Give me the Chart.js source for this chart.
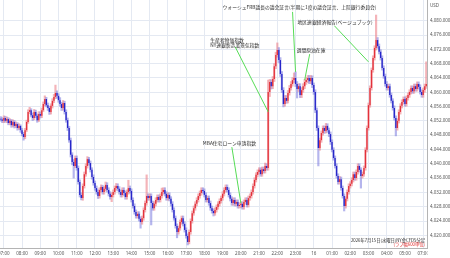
<!DOCTYPE html>
<html>
<head>
<meta charset="utf-8">
<script src="https://cdn.jsdelivr.net/npm/chart.js@4.4.1/dist/chart.umd.min.js"></script>
<style>
  html, body { margin: 0; padding: 0; background: #fff; }
</style>
</head>
<body>
<canvas id="goldChart" width="450" height="258"></canvas>
<script>
// Bar times (5 minute bars, JST)
const preTimes = ['05:50', '05:55'];
const sessionHours = ['07', '08', '09', '10', '11', '12', '13', '14', '15', '16', '17', '18',
                      '19', '20', '21', '22', '23', '00', '01', '02', '03', '04', '05'];
const minuteMarks = ['00', '05', '10', '15', '20', '25', '30', '35', '40', '45', '50', '55'];
const postTimes = ['07:00', '07:05', '07:10'];

// OHLC, one row per hour
const opens = [
  4052.6, 4052.4,
  4052.0, 4052.8, 4052.0, 4052.5, 4051.4, 4052.0, 4050.8, 4051.7, 4050.6, 4051.1, 4050.0, 4050.6,
  4049.4, 4048.3, 4047.5, 4049.4, 4051.7, 4054.5, 4055.0, 4053.6, 4052.8, 4054.5, 4053.4, 4052.2,
  4053.9, 4053.4, 4055.0, 4056.7, 4058.1, 4056.4, 4055.6, 4054.5, 4056.2, 4057.6, 4058.7, 4059.8,
  4059.0, 4057.8, 4056.7, 4055.6, 4057.0, 4054.5, 4052.2, 4050.0, 4046.6, 4042.5, 4040.5, 4039.4,
  4041.6, 4038.8, 4034.9, 4031.3, 4030.4, 4033.8, 4037.1, 4039.4, 4041.3, 4040.2, 4038.3, 4036.3,
  4034.6, 4033.2, 4032.1, 4031.0, 4032.7, 4033.5, 4032.1, 4033.0, 4034.1, 4032.7, 4031.6, 4030.7,
  4031.3, 4032.1, 4033.2, 4033.8, 4033.0, 4032.1, 4031.3, 4032.7, 4031.8, 4030.7, 4032.1, 4033.2,
  4032.4, 4029.9, 4028.2, 4026.5, 4025.4, 4026.0, 4024.6, 4023.7, 4024.8, 4027.1, 4029.0, 4031.0,
  4030.4, 4031.0, 4029.0, 4027.6, 4028.8, 4029.9, 4030.7, 4029.9, 4031.0, 4032.1, 4032.7, 4031.6,
  4030.4, 4031.3, 4030.2, 4028.8, 4027.1, 4024.8, 4022.6, 4020.9, 4022.0, 4023.7, 4024.8, 4023.2,
  4021.5, 4019.8, 4018.1, 4020.9, 4024.0, 4026.2, 4027.6, 4028.8, 4029.9, 4031.0, 4031.8, 4032.7,
  4032.4, 4031.3, 4029.9, 4030.4, 4029.0, 4027.6, 4026.8, 4026.2, 4027.1, 4027.9, 4028.8, 4029.6,
  4030.4, 4031.6, 4032.7, 4033.5, 4032.7, 4031.3, 4030.2, 4029.0, 4029.9, 4028.8, 4029.3, 4028.2,
  4028.5, 4028.8, 4027.9, 4029.3, 4029.9, 4028.5, 4030.4, 4031.0, 4032.1, 4033.8, 4035.5, 4036.9,
  4037.7, 4038.3, 4037.1, 4038.5, 4038.0, 4039.4, 4038.8, 4060.1, 4062.9, 4061.7, 4063.7, 4067.3,
  4070.4, 4071.8, 4069.0, 4065.1, 4060.6, 4056.7, 4058.4, 4057.6, 4059.8, 4061.2, 4062.3, 4063.4,
  4064.0, 4062.3, 4060.9, 4061.7, 4059.2, 4060.6, 4061.7, 4062.9, 4063.4, 4064.0, 4063.1, 4064.0,
  4062.0, 4060.1, 4055.0, 4050.0, 4044.4, 4046.6, 4048.6, 4050.0, 4049.2, 4050.6, 4049.4, 4048.3,
  4046.1, 4043.9, 4041.6, 4039.4, 4036.6, 4034.9, 4035.7, 4033.2, 4031.0, 4028.2, 4030.2, 4032.1,
  4033.8, 4034.4, 4035.5, 4037.1, 4036.0, 4037.7, 4039.4, 4038.3, 4036.6, 4037.1, 4038.8, 4043.9,
  4050.0, 4056.4, 4061.2, 4066.2, 4069.6, 4072.4, 4074.6, 4072.9, 4071.3, 4069.6, 4066.8, 4064.5,
  4062.3, 4061.2, 4061.7, 4059.2, 4057.6, 4055.6, 4052.8, 4050.0, 4052.0, 4054.5, 4056.2, 4057.3,
  4058.1, 4056.7, 4058.4, 4059.2, 4060.1, 4061.2, 4060.3, 4061.7, 4060.9, 4062.3, 4061.5, 4060.1,
  4059.2, 4060.6, 4061.7
];
const highs = [
  4053.2, 4052.9,
  4053.4, 4053.3, 4053.1, 4052.9, 4052.6, 4052.4, 4052.3, 4052.1, 4051.7, 4051.5, 4051.2, 4050.9,
  4049.9, 4048.8, 4049.9, 4052.2, 4055.1, 4055.8, 4055.4, 4054.2, 4055.2, 4055.0, 4053.9, 4054.6,
  4054.5, 4055.6, 4057.3, 4059.0, 4058.6, 4057.0, 4056.1, 4056.8, 4058.2, 4059.4, 4062.0, 4060.4,
  4059.6, 4058.5, 4057.2, 4057.7, 4057.5, 4055.1, 4052.8, 4050.5, 4047.2, 4043.1, 4041.2, 4042.2,
  4042.2, 4039.4, 4035.5, 4031.9, 4034.4, 4037.7, 4040.0, 4042.0, 4041.8, 4040.8, 4038.9, 4036.9,
  4035.2, 4033.8, 4032.7, 4033.3, 4034.1, 4034.0, 4033.6, 4034.9, 4034.7, 4033.3, 4032.2, 4031.9,
  4032.7, 4033.8, 4034.5, 4034.4, 4033.6, 4032.7, 4033.3, 4033.3, 4032.4, 4032.7, 4035.4, 4033.8,
  4033.0, 4030.5, 4028.8, 4027.1, 4026.6, 4026.6, 4025.2, 4025.4, 4027.7, 4029.6, 4036.9, 4031.6,
  4031.6, 4031.6, 4029.6, 4029.4, 4030.5, 4031.3, 4031.3, 4031.6, 4033.2, 4033.3, 4033.3, 4032.2,
  4031.9, 4031.9, 4030.8, 4029.4, 4027.7, 4025.4, 4023.2, 4022.6, 4024.3, 4025.4, 4025.4, 4023.8,
  4022.1, 4020.4, 4021.5, 4024.6, 4026.8, 4028.2, 4029.4, 4030.5, 4031.6, 4032.4, 4033.3, 4033.3,
  4033.0, 4031.9, 4031.0, 4031.0, 4029.6, 4028.2, 4027.4, 4027.7, 4028.5, 4029.4, 4030.2, 4031.0,
  4032.2, 4033.3, 4034.1, 4034.1, 4033.3, 4031.9, 4030.8, 4030.5, 4030.5, 4029.9, 4029.9, 4029.1,
  4029.4, 4029.4, 4029.9, 4030.5, 4030.5, 4031.0, 4031.6, 4032.7, 4034.4, 4036.1, 4037.5, 4038.3,
  4038.9, 4038.9, 4039.1, 4039.1, 4040.2, 4040.0, 4063.4, 4063.6, 4063.5, 4064.4, 4068.0, 4071.2,
  4073.8, 4072.5, 4069.7, 4065.8, 4061.3, 4059.1, 4059.1, 4060.5, 4061.9, 4063.0, 4064.1, 4065.4,
  4065.7, 4063.0, 4062.4, 4062.4, 4061.3, 4062.4, 4063.6, 4064.1, 4064.7, 4064.7, 4064.7, 4064.6,
  4062.6, 4060.7, 4055.6, 4050.6, 4047.2, 4049.2, 4050.6, 4050.6, 4051.3, 4051.2, 4050.0, 4048.9,
  4046.7, 4044.5, 4042.2, 4040.0, 4037.2, 4036.5, 4036.3, 4033.8, 4031.6, 4030.8, 4032.7, 4034.4,
  4035.0, 4036.1, 4037.7, 4037.7, 4038.3, 4040.0, 4040.0, 4038.9, 4037.7, 4039.4, 4044.5, 4050.6,
  4057.0, 4061.8, 4066.8, 4070.2, 4073.0, 4081.6, 4075.3, 4073.5, 4071.9, 4070.2, 4067.4, 4065.1,
  4063.0, 4062.3, 4062.3, 4059.8, 4058.2, 4056.2, 4053.4, 4052.6, 4055.1, 4056.8, 4057.9, 4058.7,
  4058.7, 4059.0, 4059.8, 4060.7, 4061.8, 4061.8, 4062.3, 4062.3, 4062.9, 4062.9, 4062.1, 4060.7,
  4061.2, 4062.3, 4068.5
];
const lows = [
  4051.9, 4051.5,
  4051.5, 4051.6, 4051.5, 4050.9, 4050.9, 4050.2, 4050.3, 4050.0, 4050.1, 4049.4, 4049.6, 4048.8,
  4047.8, 4046.6, 4047.0, 4049.0, 4051.3, 4054.0, 4053.1, 4052.1, 4052.3, 4052.9, 4051.6, 4051.8,
  4052.8, 4052.9, 4054.6, 4056.2, 4055.9, 4054.9, 4053.8, 4053.9, 4055.6, 4057.1, 4058.2, 4058.3,
  4057.2, 4056.1, 4054.9, 4055.0, 4053.9, 4051.6, 4049.3, 4046.0, 4041.9, 4039.7, 4036.0, 4038.9,
  4038.2, 4034.3, 4030.7, 4029.9, 4029.8, 4033.2, 4036.5, 4038.8, 4039.6, 4037.7, 4035.7, 4034.0,
  4032.6, 4031.5, 4030.3, 4030.4, 4032.1, 4031.5, 4031.5, 4032.4, 4032.1, 4031.0, 4030.1, 4029.4,
  4030.7, 4031.5, 4032.6, 4032.4, 4031.5, 4030.7, 4030.7, 4031.2, 4030.1, 4030.1, 4031.5, 4031.8,
  4029.3, 4027.6, 4025.9, 4024.8, 4024.8, 4024.0, 4022.0, 4023.1, 4024.2, 4026.5, 4028.4, 4029.8,
  4029.8, 4022.9, 4027.0, 4027.0, 4028.2, 4029.3, 4029.3, 4029.3, 4030.4, 4031.5, 4031.0, 4029.8,
  4029.8, 4029.6, 4028.2, 4026.5, 4024.2, 4022.0, 4019.3, 4020.3, 4021.4, 4023.1, 4022.6, 4020.9,
  4019.2, 4017.3, 4017.6, 4020.3, 4023.4, 4025.6, 4027.0, 4028.2, 4029.3, 4030.4, 4031.2, 4031.8,
  4030.7, 4029.3, 4029.3, 4028.4, 4027.0, 4026.2, 4025.4, 4025.6, 4026.5, 4027.3, 4028.2, 4029.0,
  4029.8, 4031.0, 4032.1, 4032.1, 4030.7, 4029.6, 4028.4, 4028.4, 4028.2, 4028.2, 4027.6, 4027.6,
  4027.7, 4027.3, 4027.3, 4028.7, 4027.9, 4027.9, 4029.8, 4030.4, 4031.5, 4033.2, 4034.9, 4036.3,
  4037.1, 4036.5, 4036.5, 4037.4, 4037.4, 4038.2, 4038.2, 4058.8, 4060.9, 4061.0, 4063.0, 4066.6,
  4069.8, 4068.3, 4064.4, 4059.9, 4055.9, 4056.1, 4056.9, 4057.0, 4059.2, 4060.6, 4061.7, 4062.7,
  4061.6, 4058.4, 4060.2, 4058.5, 4058.5, 4060.0, 4061.0, 4062.2, 4062.7, 4062.4, 4062.4, 4061.3,
  4059.4, 4054.3, 4049.3, 4039.4, 4043.8, 4046.0, 4048.0, 4048.5, 4048.6, 4048.8, 4047.6, 4045.4,
  4043.3, 4041.0, 4038.8, 4036.0, 4034.3, 4034.3, 4032.6, 4030.4, 4026.8, 4027.6, 4029.6, 4031.5,
  4033.2, 4033.8, 4034.9, 4035.4, 4035.4, 4037.1, 4037.7, 4033.2, 4036.0, 4036.5, 4038.2, 4043.3,
  4049.4, 4055.8, 4060.6, 4065.6, 4069.0, 4071.8, 4072.3, 4070.7, 4069.0, 4066.2, 4063.9, 4061.7,
  4060.6, 4060.6, 4058.6, 4057.0, 4055.0, 4052.2, 4047.8, 4049.4, 4051.4, 4053.9, 4055.6, 4056.7,
  4056.1, 4056.1, 4057.8, 4058.6, 4059.5, 4059.7, 4059.7, 4060.3, 4060.3, 4060.9, 4059.5, 4058.6,
  4058.6, 4060.0, 4061.1
];
const closes = [
  4052.4, 4052.0,
  4052.8, 4052.0, 4052.5, 4051.4, 4052.0, 4050.8, 4051.7, 4050.6, 4051.1, 4050.0, 4050.6, 4049.4,
  4048.3, 4047.5, 4049.4, 4051.7, 4054.5, 4055.0, 4053.6, 4052.8, 4054.5, 4053.4, 4052.2, 4053.9,
  4053.4, 4055.0, 4056.7, 4058.1, 4056.4, 4055.6, 4054.5, 4056.2, 4057.6, 4058.7, 4059.8, 4059.0,
  4057.8, 4056.7, 4055.6, 4057.0, 4054.5, 4052.2, 4050.0, 4046.6, 4042.5, 4040.5, 4039.4, 4041.6,
  4038.8, 4034.9, 4031.3, 4030.4, 4033.8, 4037.1, 4039.4, 4041.3, 4040.2, 4038.3, 4036.3, 4034.6,
  4033.2, 4032.1, 4031.0, 4032.7, 4033.5, 4032.1, 4033.0, 4034.1, 4032.7, 4031.6, 4030.7, 4031.3,
  4032.1, 4033.2, 4033.8, 4033.0, 4032.1, 4031.3, 4032.7, 4031.8, 4030.7, 4032.1, 4033.2, 4032.4,
  4029.9, 4028.2, 4026.5, 4025.4, 4026.0, 4024.6, 4023.7, 4024.8, 4027.1, 4029.0, 4031.0, 4030.4,
  4031.0, 4029.0, 4027.6, 4028.8, 4029.9, 4030.7, 4029.9, 4031.0, 4032.1, 4032.7, 4031.6, 4030.4,
  4031.3, 4030.2, 4028.8, 4027.1, 4024.8, 4022.6, 4020.9, 4022.0, 4023.7, 4024.8, 4023.2, 4021.5,
  4019.8, 4018.1, 4020.9, 4024.0, 4026.2, 4027.6, 4028.8, 4029.9, 4031.0, 4031.8, 4032.7, 4032.4,
  4031.3, 4029.9, 4030.4, 4029.0, 4027.6, 4026.8, 4026.2, 4027.1, 4027.9, 4028.8, 4029.6, 4030.4,
  4031.6, 4032.7, 4033.5, 4032.7, 4031.3, 4030.2, 4029.0, 4029.9, 4028.8, 4029.3, 4028.2, 4028.5,
  4028.8, 4027.9, 4029.3, 4029.9, 4028.5, 4030.4, 4031.0, 4032.1, 4033.8, 4035.5, 4036.9, 4037.7,
  4038.3, 4037.1, 4038.5, 4038.0, 4039.4, 4038.8, 4060.1, 4062.9, 4061.7, 4063.7, 4067.3, 4070.4,
  4071.8, 4069.0, 4065.1, 4060.6, 4056.7, 4058.4, 4057.6, 4059.8, 4061.2, 4062.3, 4063.4, 4064.0,
  4062.3, 4060.9, 4061.7, 4059.2, 4060.6, 4061.7, 4062.9, 4063.4, 4064.0, 4063.1, 4064.0, 4062.0,
  4060.1, 4055.0, 4050.0, 4044.4, 4046.6, 4048.6, 4050.0, 4049.2, 4050.6, 4049.4, 4048.3, 4046.1,
  4043.9, 4041.6, 4039.4, 4036.6, 4034.9, 4035.7, 4033.2, 4031.0, 4028.2, 4030.2, 4032.1, 4033.8,
  4034.4, 4035.5, 4037.1, 4036.0, 4037.7, 4039.4, 4038.3, 4036.6, 4037.1, 4038.8, 4043.9, 4050.0,
  4056.4, 4061.2, 4066.2, 4069.6, 4072.4, 4074.6, 4072.9, 4071.3, 4069.6, 4066.8, 4064.5, 4062.3,
  4061.2, 4061.7, 4059.2, 4057.6, 4055.6, 4052.8, 4050.0, 4052.0, 4054.5, 4056.2, 4057.3, 4058.1,
  4056.7, 4058.4, 4059.2, 4060.1, 4061.2, 4060.3, 4061.7, 4060.9, 4062.3, 4061.5, 4060.1, 4059.2,
  4060.6, 4061.7, 4062.3
];

// Price axis
const priceMin = 4016.45;
const priceMax = 4085.8;
const priceStep = 4;

// Event notes: bar time, price at the line end, text
const eventTimes = ['20:00', '21:30', '23:00', '23:30', '03:00'];
const eventPrices = [4029.0, 4054.5, 4065.7, 4063.4, 4068.5];
const eventTexts = [
  ['MBA住宅ローン申請指数'],
  ['生産者物価指数', 'NY連銀製造業景気指数'],
  ['ウォーシュFRB議長の議会証言(半期に1度の議会証言、上院銀行委員会)'],
  ['週間原油在庫'],
  ['地区連銀経済報告(ベージュブック)']
];
// where each note's text and line start sit, relative to the line end (px)
const noteLayout = [
  { textDx: -38, textDy: -60, lineDx: -9, lineDy: -56 },
  { textDx: -58, textDy: -71.5, lineDx: -33, lineDy: -65 },
  { textDx: -73, textDy: -64.5, lineDx: -3, lineDy: -60 },
  { textDx: -8, textDy: -30, lineDx: 5, lineDy: -26 },
  { textDx: -71, textDy: -39.5, lineDx: -34, lineDy: -36 }
];

const captionMain = '2026年7月15日(水曜日)NY金CFD5分足';
const captionSub = '(ラフ幅600単位)';
const currencyLabel = 'USD';

// Build categories
const times = [];
preTimes.forEach(t => times.push(t));
sessionHours.forEach(h => minuteMarks.forEach(m => times.push(h + ':' + m)));
postTimes.forEach(t => times.push(t));

const UP_BODY = '#e3313a';
const DOWN_BODY = '#2626c9';
const UP_WICK = 'rgba(236, 130, 138, 0.6)';
const DOWN_WICK = 'rgba(120, 120, 222, 0.55)';

const isUp = closes.map((c, i) => c >= opens[i]);

const notesPlugin = {
    id: 'notes',
    afterDatasetsDraw(chart) {
        const { ctx, scales: { x, y } } = chart;
        ctx.save();
        eventTimes.forEach((t, i) => {
            const px = x.getPixelForValue(times.indexOf(t));
            const py = y.getPixelForValue(eventPrices[i]);
            const lay = noteLayout[i];
            ctx.strokeStyle = '#56dc56';
            ctx.lineWidth = 1;
            ctx.beginPath();
            ctx.moveTo(px + lay.lineDx, py + lay.lineDy);
            ctx.lineTo(px, py);
            ctx.stroke();
            ctx.fillStyle = '#2a2a2a';
            ctx.font = '4.8px "Noto Sans CJK JP"';
            ctx.textAlign = 'left';
            ctx.textBaseline = 'middle';
            eventTexts[i].forEach((line, k) => {
                ctx.fillText(line, px + lay.textDx, py + lay.textDy + k * 4.4);
            });
        });
        ctx.restore();
    },
    afterDraw(chart) {
        const { ctx, chartArea } = chart;
        ctx.save();
        // the price panel hides the tail of the last time label
        ctx.fillStyle = '#fff';
        ctx.fillRect(chartArea.right + 0.5, chartArea.bottom + 1, 30, 12);

        ctx.font = '4.3px "Noto Sans CJK JP"';
        ctx.textAlign = 'right';
        ctx.textBaseline = 'middle';
        ctx.fillStyle = '#2a2a2a';
        ctx.fillText(captionMain, chartArea.right - 2, chartArea.bottom - 8);
        ctx.fillStyle = '#e02a2a';
        ctx.fillText(captionSub, chartArea.right - 2, chartArea.bottom - 3.5);

        ctx.textAlign = 'left';
        ctx.fillStyle = '#555';
        ctx.font = '4.5px "Noto Sans"';
        ctx.fillText(currencyLabel, chartArea.right + 3, 6);
        ctx.restore();
    }
};

const ctx = document.getElementById('goldChart').getContext('2d');
const goldChart = new Chart(ctx, {
    type: 'bar',
    data: {
        labels: times,
        datasets: [
            {
                label: 'body',
                data: opens.map((o, i) => [o, closes[i]]),
                backgroundColor: isUp.map(u => u ? UP_BODY : DOWN_BODY),
                barPercentage: 0.85,
                categoryPercentage: 1,
                minBarLength: 0.6,
                grouped: false,
                order: 0
            },
            {
                label: 'wick',
                data: lows.map((l, i) => [l, highs[i]]),
                backgroundColor: isUp.map(u => u ? UP_WICK : DOWN_WICK),
                barPercentage: 1,
                categoryPercentage: 1,
                grouped: false,
                order: 1
            }
        ]
    },
    options: {
        responsive: false,
        animation: false,
        devicePixelRatio: 1,
        layout: { padding: 0 },
        plugins: {
            legend: { display: false },
            tooltip: { enabled: false }
        },
        scales: {
            x: {
                type: 'category',
                offset: true,
                grid: { offset: false, color: '#e4e9f2', drawTicks: false },
                border: { color: '#b4b4b4' },
                ticks: {
                    autoSkip: false,
                    maxRotation: 0,
                    padding: 3,
                    color: '#555',
                    font: { family: 'Noto Sans', size: 4.5 },
                    callback(value) {
                        const t = times[value];
                        if (!t.endsWith(':00')) return null;
                        return t === '00:00' ? '16' : t;
                    }
                },
                afterFit(scale) {
                    scale.height = 10;
                    scale.paddingLeft = 0;
                    scale.paddingRight = 0;
                }
            },
            y: {
                position: 'right',
                min: priceMin,
                max: priceMax,
                grid: { color: '#e4e9f2', drawTicks: false },
                border: { color: '#b4b4b4' },
                ticks: {
                    stepSize: priceStep,
                    includeBounds: false,
                    padding: 3,
                    color: '#555',
                    font: { family: 'Noto Sans', size: 4.5 },
                    callback(value) {
                        if (value > 4080) return null;
                        return value.toLocaleString('en-US', { minimumFractionDigits: 3, maximumFractionDigits: 3 });
                    }
                },
                afterFit(scale) {
                    scale.width = 23;
                    scale.paddingTop = 0;
                    scale.paddingBottom = 0;
                }
            }
        }
    },
    plugins: [notesPlugin]
});
</script>
</body>
</html>
